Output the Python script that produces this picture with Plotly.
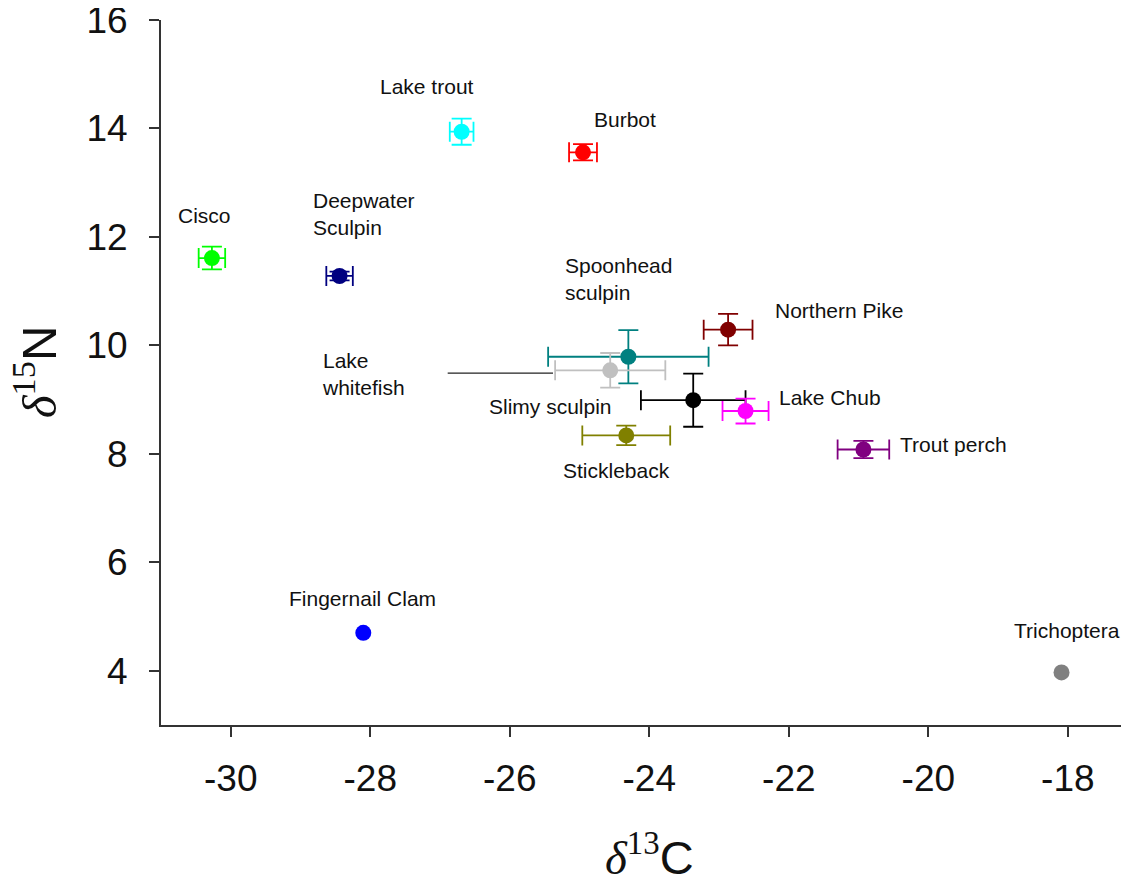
import plotly.graph_objects as go

# ---- data ----
species = ["Cisco", "Deepwater Sculpin", "Lake trout", "Burbot", "Spoonhead sculpin",
           "Slimy sculpin", "Lake whitefish", "Lake Chub", "Northern Pike", "Stickleback",
           "Trout perch", "Fingernail Clam", "Trichoptera"]
d13C = [-30.27, -28.44, -26.69, -24.95, -24.30, -24.56, -23.37, -22.62, -22.87, -24.33,
        -20.93, -28.10, -18.09]
d15N = [11.61, 11.28, 13.94, 13.56, 9.79, 9.54, 8.99, 8.79, 10.29, 8.34,
        8.08, 4.70, 3.97]
err_C = [0.19, 0.19, 0.17, 0.20, 1.15, 0.79, 0.75, 0.33, 0.35, 0.63, 0.37, 0.0, 0.0]
err_N = [0.21, 0.08, 0.24, 0.15, 0.49, 0.32, 0.49, 0.23, 0.29, 0.18, 0.16, 0.0, 0.0]
colors = ["#00FF00", "#000080", "#00FFFF", "#FF0000", "#008080", "#C0C0C0", "#000000",
          "#FF00FF", "#800000", "#808000", "#800080", "#0000FF", "#808080"]

# label texts and their anchor points (left-aligned) in data units
label_text = ["Lake trout", "Burbot", "Cisco", "Deepwater<br>Sculpin", "Spoonhead<br>sculpin",
              "Northern Pike", "Lake<br>whitefish", "Slimy sculpin", "Lake Chub", "Trout perch",
              "Stickleback", "Fingernail Clam", "Trichoptera"]
label_x = [-27.89, -24.82, -30.79, -28.85, -25.24, -22.22, -28.72, -26.32, -22.17, -20.44,
           -25.27, -29.20, -18.80]
label_y = [14.78, 14.17, 12.40, 12.42, 11.23, 10.65, 9.48, 8.88, 9.04, 8.18,
           7.70, 5.34, 4.75]

# leader line for Lake whitefish
leader_x = [-26.89, -25.38]
leader_y = [9.49, 9.49]

x_ticks = [-30, -28, -26, -24, -22, -20, -18]
x_tick_text = ["-30", "-28", "-26", "-24", "-22", "-20", "-18"]
y_ticks = [4, 6, 8, 10, 12, 14, 16]
y_tick_text = ["4", "6", "8", "10", "12", "14", "16"]

SANS = "Liberation Sans, Arial, sans-serif"
SERIF = "Liberation Serif, Times New Roman, serif"

fig = go.Figure()
for i in range(len(species)):
    has_err = err_C[i] > 0 or err_N[i] > 0
    fig.add_trace(go.Scatter(
        x=[d13C[i]], y=[d15N[i]], mode="markers", name=species[i],
        marker=dict(size=16, color=colors[i], line=dict(width=0)),
        error_x=dict(type="data", array=[err_C[i]], visible=has_err, color=colors[i],
                     thickness=1.8, width=10),
        error_y=dict(type="data", array=[err_N[i]], visible=has_err, color=colors[i],
                     thickness=1.8, width=10),
        showlegend=False, cliponaxis=False,
    ))

fig.add_shape(type="line", x0=leader_x[0], x1=leader_x[1], y0=leader_y[0], y1=leader_y[1],
              xref="x", yref="y", line=dict(color="#222222", width=1.3))

for t, lx, ly in zip(label_text, label_x, label_y):
    fig.add_annotation(x=lx, y=ly, text=t, showarrow=False, xanchor="left", yanchor="middle",
                       align="left", font=dict(family=SANS, size=21, color="#111111"))

fig.add_annotation(
    xref="paper", yref="paper", x=0.507, y=-0.183, xanchor="center", yanchor="middle",
    showarrow=False,
    text=f'<span style="font-family:{SERIF}"><i>δ</i><sup>13</sup></span>C',
    font=dict(family=SANS, size=47, color="#111111"))
fig.add_annotation(
    xref="paper", yref="paper", x=-0.13, y=0.5, xanchor="center", yanchor="middle",
    showarrow=False, textangle=-90,
    text=f'<span style="font-family:{SERIF}"><i>δ</i><sup>15</sup></span>N',
    font=dict(family=SANS, size=49, color="#111111"))

axis_common = dict(showgrid=False, zeroline=False, showline=True, linecolor="#333333",
                   linewidth=2, ticks="outside", ticklen=10, tickwidth=2, tickcolor="#333333",
                   ticklabeloverflow="allow", automargin=False,
                   tickfont=dict(family=SANS, size=37, color="#111111"))

# page body has an 8px default margin: figure is sized/offset to compensate
fig.update_layout(
    width=1121, height=870,
    margin=dict(l=153, r=4, t=12, b=153),
    plot_bgcolor="white", paper_bgcolor="white",
    xaxis=dict(range=[-31, -17.18], tickvals=x_ticks, ticktext=x_tick_text,
               ticklabelstandoff=10, **axis_common),
    yaxis=dict(range=[3, 16.0], tickvals=y_ticks, ticktext=y_tick_text,
               ticklabelstandoff=14, **axis_common),
)

fig.write_html("out.html")
